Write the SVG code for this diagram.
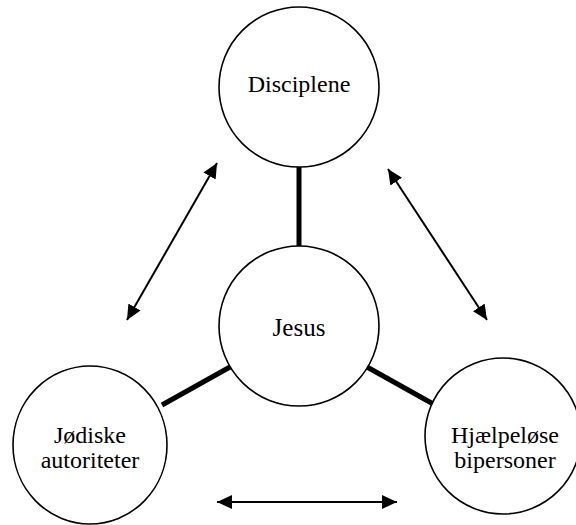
<svg xmlns="http://www.w3.org/2000/svg" width="576" height="525" viewBox="0 0 576 525">
<style>
.node{fill:#fff;stroke:#000;stroke-width:1.6}
.lbl{font-family:"Liberation Serif","Times New Roman",serif;font-size:24px;fill:#000;text-anchor:middle}
.thick{stroke:#000;stroke-width:5;fill:none}
.arr{stroke:#000;stroke-width:2;fill:none;marker-start:url(#ah);marker-end:url(#ah)}
</style>
<defs>
<marker id="ah" markerUnits="userSpaceOnUse" markerWidth="16" markerHeight="16" viewBox="0 0 16 16" refX="15" refY="8" orient="auto-start-reverse">
<path d="M0,1 L15,8 L0,15 Z" fill="#000"/>
</marker>
</defs>
<rect width="576" height="525" fill="#fff"/>
<g id="connectors">
<line class="thick" x1="299" y1="167" x2="299" y2="246"/>
<line class="thick" x1="230" y1="367" x2="162" y2="405"/>
<line class="thick" x1="367" y1="367" x2="435" y2="405"/>
<line class="arr" x1="217" y1="163" x2="127" y2="320"/>
<line class="arr" x1="388" y1="169" x2="487" y2="320"/>
<line class="arr" x1="217" y1="502" x2="397" y2="502"/>
</g>
<g id="disciplene">
<circle class="node" cx="299" cy="87" r="80"/>
<text class="lbl" x="299" y="92">Disciplene</text>
</g>
<g id="jesus">
<circle class="node" cx="299" cy="326" r="80"/>
<text class="lbl" x="299" y="336" style="font-size:25px">Jesus</text>
</g>
<g id="jodiske">
<ellipse class="node" cx="90" cy="445" rx="77" ry="79"/>
<text class="lbl" x="90" y="443">Jødiske</text>
<text class="lbl" x="90" y="468">autoriteter</text>
</g>
<g id="hjaelpelose">
<circle class="node" cx="503" cy="436" r="78"/>
<text class="lbl" x="505" y="443">Hjælpeløse</text>
<text class="lbl" x="505" y="468">bipersoner</text>
</g>
</svg>
